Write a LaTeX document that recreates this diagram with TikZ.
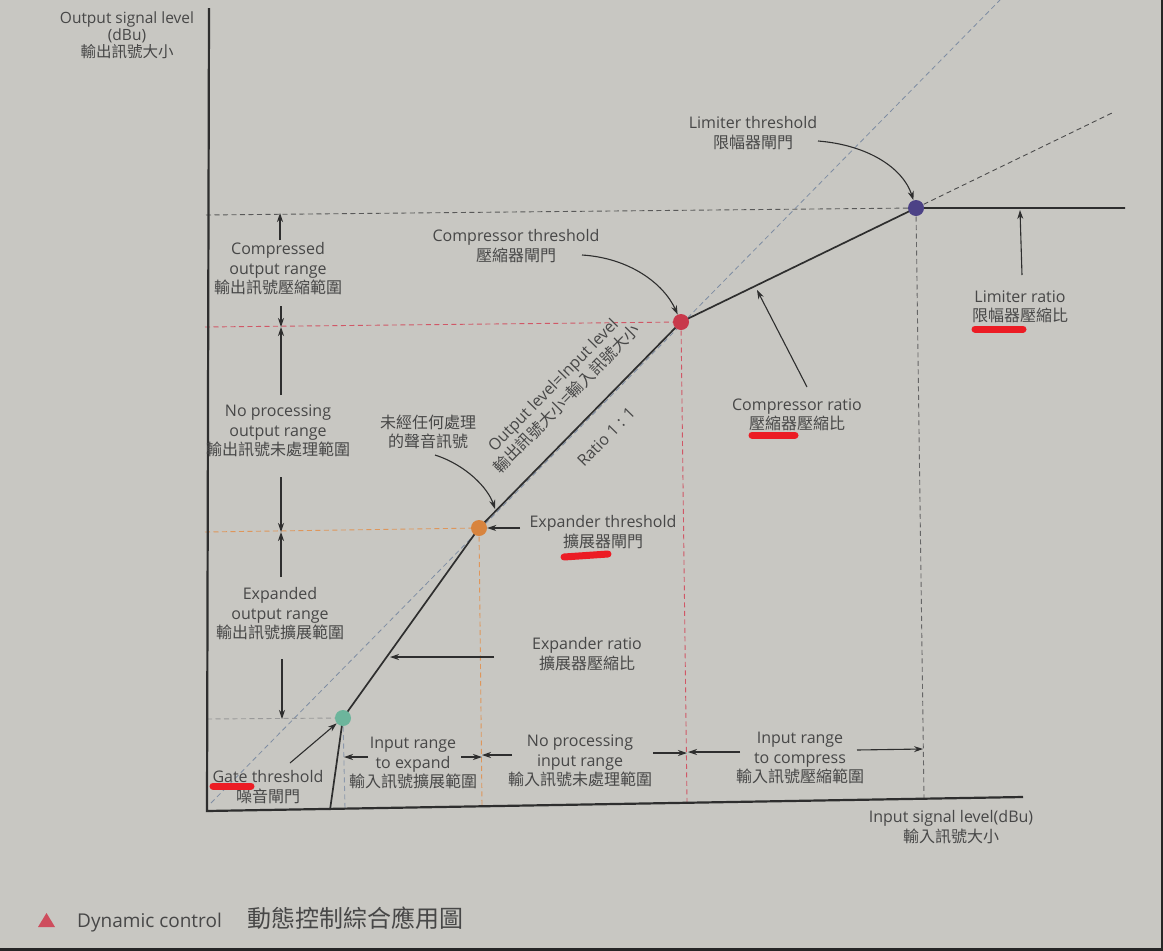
\documentclass[tikz,border=0pt]{standalone}
\usepackage{fontspec}
\setmainfont{Open Sans}
\setsansfont{Open Sans}
\newfontfamily\cjk{Noto Sans CJK TC}
\usetikzlibrary{arrows.meta}
\definecolor{paper}{HTML}{C8C7C2}
\definecolor{ink}{HTML}{2E2E2E}
\definecolor{txt}{HTML}{474747}
\definecolor{unity}{HTML}{7F8DA3}
\definecolor{gatec}{HTML}{6DB59C}
\definecolor{expc}{HTML}{D8843E}
\definecolor{compc}{HTML}{C8394B}
\definecolor{limc}{HTML}{4C4286}
\definecolor{penred}{HTML}{EC1C24}
\begin{document}
\begin{tikzpicture}[x=1pt,y=-1pt,
  lbl/.style={text=txt,align=center,inner sep=0pt,font=\fontsize{16}{19.5}\selectfont},
  axlbl/.style={text=txt,align=center,inner sep=0pt,font=\fontsize{15.5}{17}\selectfont},
  axisline/.style={ink,line width=2.2pt},
  curve/.style={ink,line width=1.7pt},
  arr/.style={ink,line width=1.1pt,-{Stealth[length=9pt,width=6pt]}},
  guide/.style={line width=0.9pt,dash pattern=on 5pt off 3.5pt},
  dot/.style={circle,fill=#1,minimum size=16pt,inner sep=0pt},
  hilite/.style={penred,line width=7pt,line cap=round}]

% paper
\fill[paper] (0,0) rectangle (1163,951);
\fill[black!85] (0,948) rectangle (1163,951);
\fill[black!85] (1161,0) rectangle (1163,951);
\useasboundingbox (0,0) rectangle (1163,951);

% key points of the transfer curve
\coordinate (ytop) at (209,8);
\coordinate (org) at (207,811);
\coordinate (xend) at (1023,797);
\coordinate (G) at (343,718);
\coordinate (E) at (479,528);
\coordinate (C) at (681,322);
\coordinate (L) at (916,208);
\coordinate (gatefoot) at (330,810);
\coordinate (limend) at (1125,208);
\coordinate (compext) at (1112,113);
\coordinate (unitylo) at (211,803);
\coordinate (unityhi) at (1000,0);

% level guides to the output axis
\draw[guide,black!65] (206,215) -- (L);
\draw[guide,compc!85] (205,327) -- (C);
\draw[guide,expc!85] (205,532) -- (E);
\draw[guide,gray!80] (207,719) -- (G);
% level guides to the input axis
\draw[guide,unity!90] (G) -- (345,808);
\draw[guide,expc!85] (E) -- (482,806);
\draw[guide,compc!85] (C) -- (687,802);
\draw[guide,black!60] (L) -- (924,798);
% unity line and compressor extension
\draw[guide,unity,line width=0.8pt] (unitylo) -- (unityhi);
\draw[guide,black!70] (L) -- (compext);

% axes
\draw[axisline] (ytop) -- (org) -- (xend);

% transfer curve
\draw[curve] (gatefoot) -- (G) -- (E) -- (C) -- (L) -- (limend);

% threshold dots
\node[dot=gatec] (gate) at (G) {};
\node[dot=expc] (expth) at (E) {};
\node[dot=compc] (compth) at (C) {};
\node[dot=limc] (limth) at (L) {};

% axis titles
\node[axlbl] (ylab) at (127,35) {Output signal level\\(dBu)\\{\cjk 輸出訊號大小}};
\node[lbl] (xlab) at (951,827) {Input signal level(dBu)\\{\cjk 輸入訊號大小}};

% output ranges
\node[lbl] (outcomp) at (278,269) {Compressed\\output range\\{\cjk 輸出訊號壓縮範圍}};
\node[lbl] (outnone) at (278,431) {No processing\\output range\\{\cjk 輸出訊號未處理範圍}};
\node[lbl] (outexp) at (280,614) {Expanded\\output range\\{\cjk 輸出訊號擴展範圍}};

\coordinate (oc1) at (280,240); \coordinate (oc1h) at (280,213);
\coordinate (oc2) at (281,306); \coordinate (oc2h) at (281,327);
\coordinate (on1) at (281,395); \coordinate (on1h) at (281,327);
\coordinate (on2) at (281,477); \coordinate (on2h) at (281,532);
\coordinate (oe1) at (281,577); \coordinate (oe1h) at (281,532);
\coordinate (oe2) at (282,659); \coordinate (oe2h) at (282,719);
\draw[arr] (oc1) -- (oc1h);
\draw[arr] (oc2) -- (oc2h);
\draw[arr] (on1) -- (on1h);
\draw[arr] (on2) -- (on2h);
\draw[arr] (oe1) -- (oe1h);
\draw[arr] (oe2) -- (oe2h);

% input ranges
\node[lbl] (inexp) at (413,763) {Input range\\to expand\\{\cjk 輸入訊號擴展範圍}};
\node[lbl] (innone) at (580,761) {No processing\\input range\\{\cjk 輸入訊號未處理範圍}};
\node[lbl] (incomp) at (800,758) {Input range\\to compress\\{\cjk 輸入訊號壓縮範圍}};

\coordinate (ie1) at (368,757); \coordinate (ie1h) at (344,757);
\coordinate (ie2) at (461,757); \coordinate (ie2h) at (482,757);
\coordinate (in1) at (512,755); \coordinate (in1h) at (482,755);
\coordinate (in2) at (653,753); \coordinate (in2h) at (687,753);
\coordinate (ic1) at (740,752); \coordinate (ic1h) at (688,752);
\coordinate (ic2) at (857,750); \coordinate (ic2h) at (923,749);
\draw[arr] (ie1) -- (ie1h);
\draw[arr] (ie2) -- (ie2h);
\draw[arr] (in1) -- (in1h);
\draw[arr] (in2) -- (in2h);
\draw[arr] (ic1) -- (ic1h);
\draw[arr] (ic2) -- (ic2h);

% threshold and ratio labels
\node[lbl] (limlab) at (753,133) {Limiter threshold\\{\cjk 限幅器閘門}};
\node[lbl] (complab) at (516,246) {Compressor threshold\\{\cjk 壓縮器閘門}};
\node[lbl] (rawlab) at (428,432) {{\cjk 未經任何處理}\\{\cjk 的聲音訊號}};
\node[lbl] (explab) at (603,532) {Expander threshold\\{\cjk 擴展器閘門}};
\node[lbl] (expratio) at (587,654) {Expander ratio\\{\cjk 擴展器壓縮比}};
\node[lbl] (compratio) at (797,415) {Compressor ratio\\{\cjk 壓縮器壓縮比}};
\node[lbl] (limratio) at (1020,307) {Limiter ratio\\{\cjk 限幅器壓縮比}};
\node[lbl] (gatelab) at (268,787) {Gate threshold\\{\cjk 噪音閘門}};

% labels along the unity segment
\node[lbl,rotate=45.6] (unitylab) at (560,392) {Output level=Input level\\{\cjk 輸出訊號大小=輸入訊號大小}};
\node[lbl,rotate=45.6] (ratiolab) at (606,437) {Ratio 1 : 1};

% pointers
\coordinate (limtail) at (818,141);
\coordinate (comptail) at (582,255);
\coordinate (rawtail) at (435,455);
\coordinate (rawhead) at (495,509);
\coordinate (exptail) at (520,528);
\coordinate (erattail) at (494,657);
\coordinate (erathead) at (390,657);
\coordinate (crattail) at (807,387);
\coordinate (crathead) at (757,290);
\coordinate (lrattail) at (1022,275);
\coordinate (lrathead) at (1020,210);
\coordinate (gatetail) at (290,763);

\draw[arr] (limtail) .. controls (868,145) and (903,168) .. (limth);
\draw[arr] (comptail) .. controls (630,258) and (664,284) .. (compth);
\draw[arr] (rawtail) .. controls (466,465) and (488,488) .. (rawhead);
\draw[arr] (exptail) -- (expth);
\draw[arr] (erattail) -- (erathead);
\draw[arr] (crattail) -- (crathead);
\draw[arr] (lrattail) -- (lrathead);
\draw[arr] (gatetail) -- (gate);

% highlighter strokes
\draw[hilite] (213,786) -- (251,786);
\draw[hilite] (975,329) -- (1023,329);
\draw[hilite] (752,435) -- (795,435);
\draw[hilite] (564,557) -- (608,554);

% caption
\fill[compc!90] (38,927) -- (55,927) -- (46.5,913) -- cycle;
\node[anchor=west,text=txt,inner sep=0pt] (caption) at (77,919)
  {\fontsize{19}{22}\selectfont Dynamic control\hspace{26pt}{\cjk\fontsize{24}{24}\selectfont 動態控制綜合應用圖}};
\end{tikzpicture}
\end{document}
